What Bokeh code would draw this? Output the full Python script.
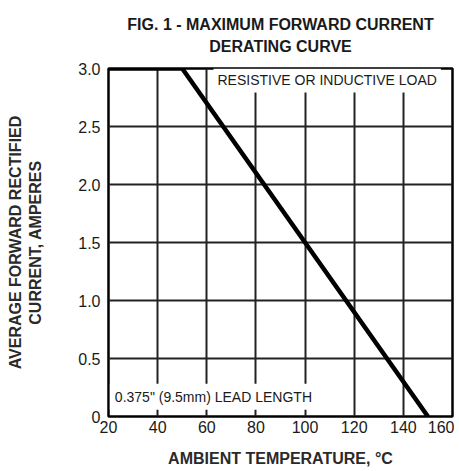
from bokeh.plotting import figure
from bokeh.models import FixedTicker, Label, Range1d, Title
from bokeh.embed import file_html
from bokeh.resources import INLINE

# Data
temp_c = [20, 50, 150]
current_a = [3.0, 3.0, 0.0]
x_ticks = [20, 40, 60, 80, 100, 120, 140, 160]
x_tick_labels = ["20", "40", "60", "80", "100", "120", "140", "160"]
y_ticks = [0, 0.5, 1.0, 1.5, 2.0, 2.5, 3.0]
y_tick_labels = ["0", "0.5", "1.0", "1.5", "2.0", "2.5", "3.0"]

FONT = "Liberation Sans"
INK = "#1a1a1a"

p = figure(width=454, height=470, output_backend="svg", toolbar_location=None,
           x_range=Range1d(20, 160), y_range=Range1d(0, 3.0),
           min_border_left=108, min_border_right=2, min_border_top=67, min_border_bottom=54)

p.title.visible = False
p.add_layout(Title(text="FIG. 1 - MAXIMUM FORWARD CURRENT\nDERATING CURVE", align="center",
                   text_align="center", text_font=FONT,
                   text_font_size="16px", text_font_style="bold", text_color=INK,
                   text_line_height=1.3, standoff=27), "above")

p.outline_line_color = "black"
p.outline_line_width = 2.5

for ax in (p.xaxis[0], p.yaxis[0]):
    ax.axis_line_color = None
    ax.major_tick_line_color = None
    ax.minor_tick_line_color = None
    ax.major_tick_in = 0
    ax.major_tick_out = 0
    ax.major_label_text_font = FONT
    ax.major_label_text_font_size = "16px"
    ax.major_label_text_color = INK
    ax.axis_label_text_font = FONT
    ax.axis_label_text_font_size = "16px"
    ax.axis_label_text_font_style = "bold"
    ax.axis_label_text_color = "#2a2a2a"

p.xaxis.ticker = FixedTicker(ticks=x_ticks)
p.xaxis.major_label_overrides = {t: s for t, s in zip(x_ticks, x_tick_labels)}
p.yaxis.ticker = FixedTicker(ticks=y_ticks)
p.yaxis.major_label_overrides = {t: s for t, s in zip(y_ticks, y_tick_labels)}
p.xaxis.major_label_standoff = 4
p.yaxis.major_label_standoff = 8
p.xaxis.axis_label = "AMBIENT TEMPERATURE, °C"
p.xaxis.axis_label_standoff = 14
p.yaxis.axis_label = "AVERAGE FORWARD RECTIFIED\nCURRENT, AMPERES"
p.yaxis.axis_label_standoff = 31

p.xgrid.ticker = FixedTicker(ticks=x_ticks)
p.ygrid.ticker = FixedTicker(ticks=y_ticks)
for g in (p.xgrid[0], p.ygrid[0]):
    g.grid_line_color = "#222222"
    g.grid_line_width = 2
    g.grid_line_alpha = 1.0

p.line(temp_c, current_a, line_color="black", line_width=4.5, line_join="miter")

p.add_layout(Label(x=109, y=2.897, text="RESISTIVE OR INDUCTIVE LOAD",
                   text_align="center", text_baseline="middle", text_font=FONT,
                   text_font_size="14px", text_color=INK,
                   background_fill_color="white", padding=4))
p.add_layout(Label(x=62.7, y=0.17, text='0.375" (9.5mm) LEAD LENGTH',
                   text_align="center", text_baseline="middle", text_font=FONT,
                   text_font_size="14px", text_color=INK,
                   background_fill_color="white", padding=5))

open("out.html", "w").write(file_html(p, INLINE))
